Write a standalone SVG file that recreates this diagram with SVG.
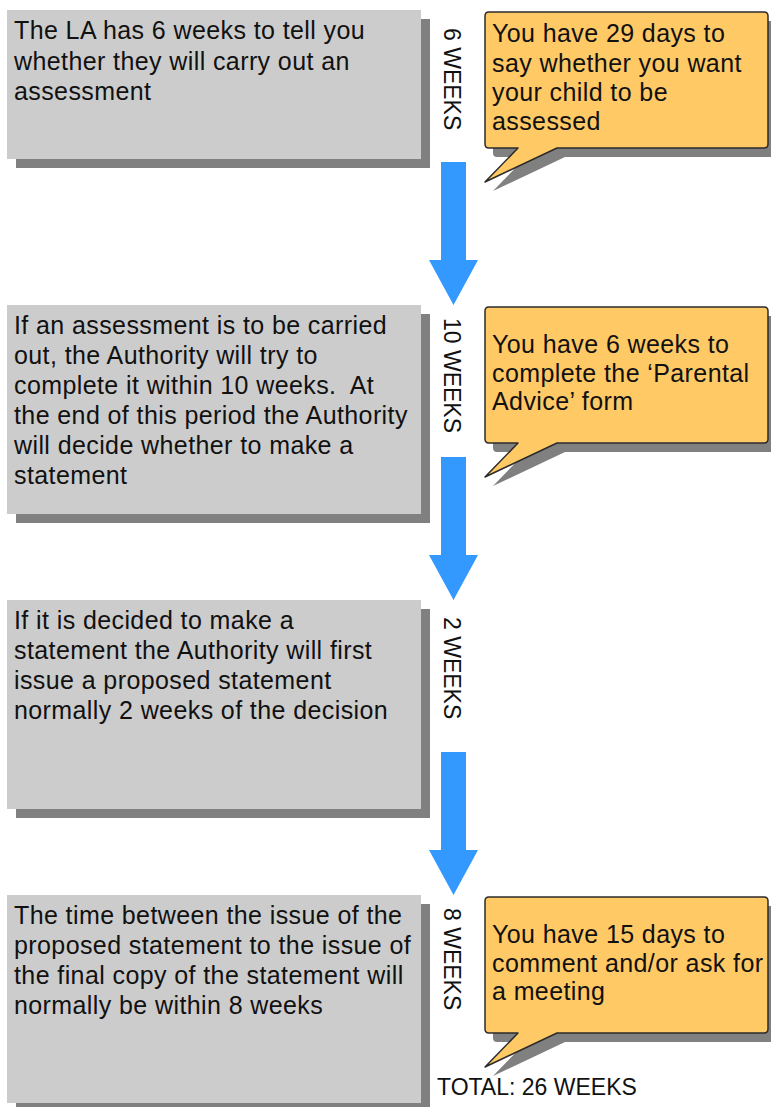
<svg xmlns="http://www.w3.org/2000/svg" width="771" height="1107" viewBox="0 0 771 1107">
<defs>
<style>
.box{fill:#cccccc}
.shadow{fill:#808080}
.call{fill:#ffc966;stroke:#2b2b2b;stroke-width:1.5;stroke-linejoin:round}
.t{font-family:"Liberation Sans",Arial,sans-serif;font-size:25px;fill:#111;letter-spacing:0.4px}
.lbl{font-family:"Liberation Sans",Arial,sans-serif;font-size:23px;fill:#111}
.arrow{fill:#3399ff}
</style>
<path id="callShape" d="M489,0 H764 Q768,0 768,4 V132 Q768,136 764,136 H557 L485,170 L518,136 H489 Q485,136 485,132 V4 Q485,0 489,0 Z"/>
</defs>
<rect width="771" height="1107" fill="#ffffff"/>

<g id="connectors">
<polygon class="arrow" points="441,162 466,162 466,260 478,260 453.5,305 429,260 441,260"/>
<polygon class="arrow" points="441,457 466,457 466,555 478,555 453.5,600 429,555 441,555"/>
<polygon class="arrow" points="441,752 466,752 466,850 478,850 453.5,895 429,850 441,850"/>
</g>

<g id="box1">
<rect class="shadow" x="16" y="19" width="414" height="149"/>
<rect class="box" x="7" y="10" width="414" height="149"/>
<text class="t" x="14" y="39">The LA has 6 weeks to tell you</text>
<text class="t" x="14" y="70">whether they will carry out an</text>
<text class="t" x="14" y="100">assessment</text>
</g>
<g id="label1"><text class="lbl" transform="translate(444,28) rotate(90)">6 WEEKS</text></g>
<g id="callout1">
<use href="#callShape" class="shadow" transform="translate(8,21)"/>
<use href="#callShape" class="call" transform="translate(0,12)"/>
<text class="t" x="492" y="42">You have 29 days to</text>
<text class="t" x="492" y="72">say whether you want</text>
<text class="t" x="492" y="101">your child to be</text>
<text class="t" x="492" y="130">assessed</text>
</g>

<g id="box2">
<rect class="shadow" x="16" y="314" width="414" height="209"/>
<rect class="box" x="7" y="305" width="414" height="209"/>
<text class="t" x="14" y="334">If an assessment is to be carried</text>
<text class="t" x="14" y="364">out, the Authority will try to</text>
<text class="t" x="14" y="394" xml:space="preserve" style="white-space:pre">complete it within 10 weeks.  At</text>
<text class="t" x="14" y="424">the end of this period the Authority</text>
<text class="t" x="14" y="454">will decide whether to make a</text>
<text class="t" x="14" y="484">statement</text>
</g>
<g id="label2"><text class="lbl" transform="translate(444,318) rotate(90)">10 WEEKS</text></g>
<g id="callout2">
<use href="#callShape" class="shadow" transform="translate(8,316)"/>
<use href="#callShape" class="call" transform="translate(0,307)"/>
<text class="t" x="492" y="353">You have 6 weeks to</text>
<text class="t" x="492" y="382">complete the ‘Parental</text>
<text class="t" x="492" y="410">Advice’ form</text>
</g>

<g id="box3">
<rect class="shadow" x="16" y="609" width="414" height="209"/>
<rect class="box" x="7" y="600" width="414" height="209"/>
<text class="t" x="14" y="629">If it is decided to make a</text>
<text class="t" x="14" y="659">statement the Authority will first</text>
<text class="t" x="14" y="689">issue a proposed statement</text>
<text class="t" x="14" y="719">normally 2 weeks of the decision</text>
</g>
<g id="label3"><text class="lbl" transform="translate(444,617) rotate(90)">2 WEEKS</text></g>

<g id="box4">
<rect class="shadow" x="16" y="904" width="414" height="209"/>
<rect class="box" x="7" y="895" width="414" height="208"/>
<text class="t" x="14" y="924">The time between the issue of the</text>
<text class="t" x="14" y="954">proposed statement to the issue of</text>
<text class="t" x="14" y="984">the final copy of the statement will</text>
<text class="t" x="14" y="1014">normally be within 8 weeks</text>
</g>
<g id="label4"><text class="lbl" transform="translate(444,908) rotate(90)">8 WEEKS</text></g>
<g id="callout3">
<use href="#callShape" class="shadow" transform="translate(8,906)"/>
<use href="#callShape" class="call" transform="translate(0,897)"/>
<text class="t" x="492" y="943">You have 15 days to</text>
<text class="t" x="492" y="972">comment and/or ask for</text>
<text class="t" x="492" y="1000">a meeting</text>
</g>

<g id="total"><text class="lbl" x="437" y="1095">TOTAL: 26 WEEKS</text></g>
</svg>
